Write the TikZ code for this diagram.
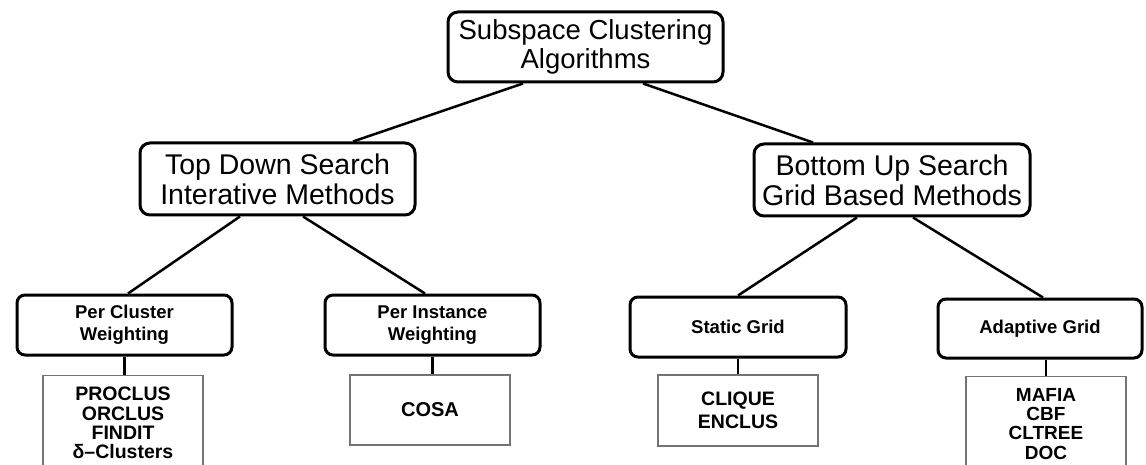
\documentclass[tikz,border=0pt]{standalone}
\usepackage{fontspec}
\setmainfont{Liberation Sans}
\begin{document}
\begin{tikzpicture}[x=1pt,y=-1pt,
  topbox/.style={draw,rounded corners=10pt,line width=3pt,align=center,
    inner sep=0pt,font=\fontsize{28.5}{30}\selectfont},
  midbox/.style={draw,rounded corners=8pt,line width=3pt,align=center,
    inner sep=0pt,font=\bfseries\fontsize{18.5}{22}\selectfont},
  leafbox/.style={draw=black!55,line width=1.3pt,align=center,
    inner sep=0pt,font=\bfseries},
  conn/.style={line width=2.5pt}]
\useasboundingbox (0,0) rectangle (1146,465);
\clip (0,0) rectangle (1146,465);
\fill[white] (0,0) rectangle (1146,465);

\node[topbox,minimum width=275pt,minimum height=70pt,
  font=\fontsize{27.5}{29}\selectfont] (root) at (585.5,47)
  {Subspace Clustering\\Algorithms};
\node[topbox,minimum width=275pt,minimum height=72pt] (td) at (277.5,179)
  {Top Down Search\\Interative Methods};
\node[topbox,minimum width=276pt,minimum height=72pt] (bu) at (892,180)
  {Bottom Up Search\\Grid Based Methods};

\node[midbox,minimum width=215pt,minimum height=60pt] (pc) at (124.5,325)
  {Per Cluster\\Weighting};
\node[midbox,minimum width=215pt,minimum height=60pt] (pi) at (432.5,325)
  {Per Instance\\Weighting};
\node[midbox,minimum width=216pt,minimum height=60pt] (sg) at (738,327)
  {Static Grid};
\node[midbox,minimum width=204pt,minimum height=59pt] (ag) at (1040,328.5)
  {Adaptive Grid};

\node[leafbox,anchor=north,minimum width=160pt,inner ysep=11.5pt,
  font=\bfseries\fontsize{19.5}{19.3}\selectfont] (l1) at (123,375)
  {PROCLUS\\ORCLUS\\FINDIT\\δ–Clusters};
\node[leafbox,minimum width=160pt,minimum height=70pt,
  font=\bfseries\fontsize{20}{22}\selectfont] (l2) at (430,410)
  {COSA};
\node[leafbox,minimum width=160pt,minimum height=71pt,
  font=\bfseries\fontsize{19.5}{22.5}\selectfont] (l3) at (738,410.5)
  {CLIQUE\\ENCLUS};
\node[leafbox,anchor=north,minimum width=160pt,inner ysep=11.5pt,
  font=\bfseries\fontsize{19}{19.3}\selectfont] (l4) at (1046,376)
  {MAFIA\\CBF\\CLTREE\\DOC};

\draw[conn] ([xshift=-62.5pt]root.south) -- ([xshift=75.5pt]td.north);
\draw[conn] ([xshift=57.5pt]root.south) -- ([xshift=-79pt]bu.north);
\draw[conn] ([xshift=-37.5pt]td.south) -- ([xshift=3.5pt]pc.north);
\draw[conn] ([xshift=25.5pt]td.south) -- ([xshift=-7.5pt]pi.north);
\draw[conn] ([xshift=-35pt]bu.south) -- (sg.north);
\draw[conn] ([xshift=21pt]bu.south) -- ([xshift=3pt]ag.north);

\draw[conn] (pc.south) -- (pc.south |- l1.north);
\draw[conn] (pi.south) -- (pi.south |- l2.north);
\draw[conn] (sg.south) -- (sg.south |- l3.north);
\draw[conn] ([xshift=6pt]ag.south) -- ([xshift=6pt]ag.south |- l4.north);
\end{tikzpicture}
\end{document}
